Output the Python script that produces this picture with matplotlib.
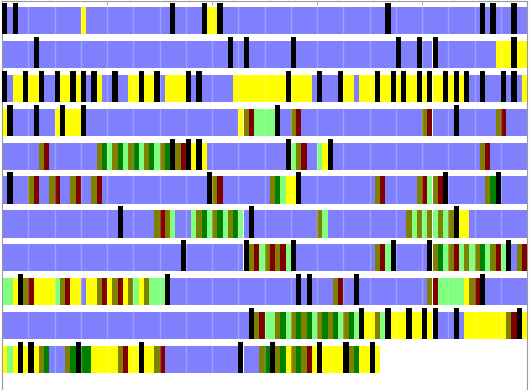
import matplotlib
matplotlib.use("Agg")
import matplotlib.pyplot as plt

# one letter per time slot (0.2 units each), one string per row
# B idle, K marker, Y yellow, O olive, R dark red, G green, L light green
row01 = "KBKBBBBBBB BBBBBYBBBB BBBBBBBBBB BBKBBBBBKY YKBBBBBBBB BBBBBBBBBB BBBBBBBBBB BBBKBBBBBB BBBBBBBBBB BKBKBBBKBB"
row02 = "BBBBBBKBBB BBBBBBBBBB BBBBBBBBBB BBBBBBBBBB BBBKBBKBBB BBBBBKBBBB BBBBBBBBBB BBBBBKBBBK BBKBBBBBBB BBBBYYYKYY"
row03 = "KBYYKYYKBB KYYKYKBKYB BKBBYYKYYK BYYYYKBKBB BBBBYYYYYY YYYYKYYYYB KBBBKYYBYY YKYYKYKYYK YKYYKYKYKB BKBBBKBKBY"
row04 = "YKBBBBKBBB YKYYYKBBBB BBBBBBBBBB BBBBBBBBBB BBBBBYORLL LLKBBORBBB BBBBBBBBBB BBBBBBBBBB ORBBBBKBBB BBBBORBBBB"
row05 = "BBBBBBBORB BBBBBBBBOG LOGLOGLOGL OGKORKYKYB BBBBBBBBBB BBBBKLORBB LYKBBBBBBB BBBBBBBBBB BBBBBBBBBB BORBBBBBBB"
row06 = "BKBBBORBBO RBBORBBORB BBBBBBBBBB BBBBBBBBBK ORBBBBBBBB BOGLYYKBBB BBBBBBBBBB BORBBBBBBO RLORKBBBBB BBOGKBBBBB"
row07 = "BBBBBBBBBB BBBBBBBBBB BBKBBBBBBO ROLBBBLOGL OGLOGLBKBB BBBBBBBBBB OLBBBBBBBB BBBBBBBOLO LOLOLOKYYB BBBBBBBBBB"
row08 = "BBBBBBBBBB BBBBBBBBBB BBBBBBBBBB BBBBKBBBBB BBBBBBKORL ORORLKBBBB BBBBBBBBBB BORLKBBBBB BKOGLORLOL OGLORLKBOR"
row09 = "LLYKORYYYY LORYYBYYOR YORYOLYOLL LKBBBBBBBB BBBBBBBBBB BBBBBBKBKB BBBORBBKBB BBBBBBBBBB BORLLLLLYO RKBBBBBBBB"
row10 = "BBBBBBBBBB BBBBBBBBBB BBBBBBBBBB BBBBBBBBBB BBBBBBBKOR LLOGLOGOGL OGOGLOGLKY YOLKYYYKYY KYKBBBKBYY YYYYYYORKY"
row11 = "YLYKYKYOGB BBOGKGGYYY YYORYYKYYO RBBBBBBBBB BBBBBKBBBO GKOGYOGORY KYYYYKOGYY KY"

rows = [row01, row02, row03, row04, row05, row06, row07, row08, row09, row10, row11]

colors = {
    "B": "#8080ff",
    "K": "#000000",
    "Y": "#ffff00",
    "O": "#808000",
    "R": "#800000",
    "G": "#008000",
    "L": "#80ff80",
}

slot = 0.2

fig = plt.figure(figsize=(5.29, 3.9), dpi=100)
ax = fig.add_axes([2 / 529, -2 / 390, 525 / 529, 391 / 390])

for i, r in enumerate(rows):
    codes = r.replace(" ", "")
    # merge runs of the same code
    runs = []
    start = 0
    for j in range(1, len(codes) + 1):
        if j == len(codes) or codes[j] != codes[start]:
            runs.append((codes[start], start * slot, (j - start) * slot))
            start = j
    for code, x0, w in runs:
        if code == "K":
            ax.broken_barh([(x0, w)], (i - 0.12, 0.92), facecolors=colors[code], zorder=4)
        else:
            ax.broken_barh([(x0, w)], (i, 0.8), facecolors=colors[code], zorder=2)

for gx in range(1, 20):
    ax.axvline(gx, color="white", alpha=0.25, lw=1, zorder=3)

ax.set_xlim(0, 20)
ax.set_ylim(11.357, -0.177)
ax.set_xticks([4, 8, 12, 16])
ax.set_yticks([])
ax.xaxis.tick_top()
ax.tick_params(axis="x", direction="in", length=3, color="#999999", labeltop=False, labelbottom=False)
for s in ax.spines.values():
    s.set_color("#999999")

fig.savefig("out.png", dpi=100)
